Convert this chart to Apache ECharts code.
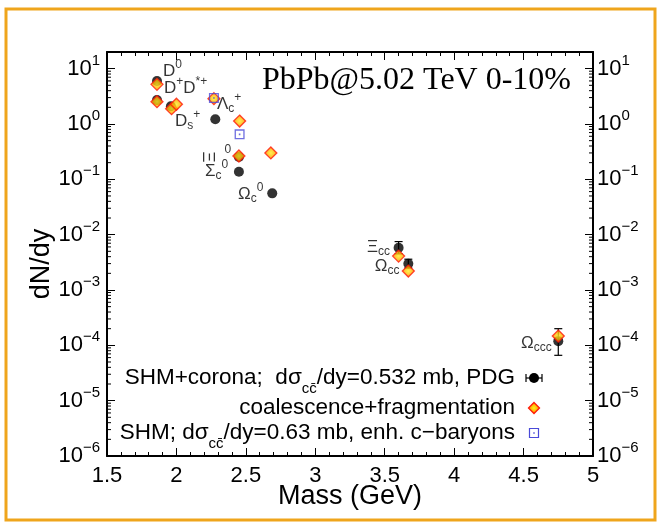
<!DOCTYPE html>
<html>
<head>
<meta charset="utf-8">
<script src="https://cdn.jsdelivr.net/npm/echarts@6/dist/echarts.min.js"></script>
<style>
  html, body { margin: 0; padding: 0; background: #ffffff; }
  #chart { width: 658px; height: 525px; }
</style>
</head>
<body>
<div id="chart"></div>
<script>
// Charm hadron yields dN/dy vs. mass, PbPb 5.02 TeV, 0-10% centrality

// SHM + corona, PDG masses (black points)
const shmCoronaMass  = [1.86, 1.86, 1.96, 2.28, 2.45, 2.45, 2.69, 3.60, 3.67, 4.75];
const shmCoronaYield = [6.0, 2.7, 2.1, 1.22, 0.253, 0.137, 0.0558, 0.0058, 0.00298, 1.19e-4];
// vertical uncertainties on the multi-charm states
const errMass = [3.60, 3.67, 4.75];
const errLow  = [0.0045, 0.0025, 6.6e-5];
const errHigh = [0.0075, 0.0036, 2.0e-4];

// coalescence + fragmentation (diamonds)
const coalMass  = [1.86, 1.86, 1.965, 2.0, 2.27, 2.455, 2.45, 2.68, 3.60, 3.67, 4.75];
const coalYield = [5.2, 2.53, 1.89, 2.27, 2.87, 1.13, 0.264, 0.30, 0.0041, 0.0022, 1.47e-4];

// SHM with enhanced charm-baryon spectrum (open squares)
const enhMass  = [2.27, 2.455];
const enhYield = [2.95, 0.65];

// particle name tags, anchored at (mass, yield)
const tagText  = ['{m|D}{p|0}', '{m|D}{p|+}{m|D}{p|*+}', '{m|D}{b|s}{p|+}', '{m|Λ}{b|c}{p|+}',
                  '{m|Σ}{b|c}{p|0}', '{m|Ω}{b|c}{p|0}', '{m|Ξ}{b|cc}', '{m|Ω}{b|cc}', '{m|Ω}{b|ccc}'];
const tagMass  = [1.903, 1.910, 1.990, 2.292, 2.206, 2.443, 3.372, 3.429, 4.481];
const tagYield = [9.08, 4.48, 1.13, 2.30, 0.141, 0.0542, 0.00597, 0.0027, 1.10e-4];
// the rotated Xi_c^0 tag
const xiTagMass = [2.227, 2.371];
const xiTagYield = [0.253, 0.339];

// axis ranges
const massRange = [1.5, 5];
const massStep = 0.5;
const yieldRange = [1e-6, 20];

const FONT = 'Liberation Sans, Arial, sans-serif';
const SERIF = 'Liberation Serif, Times New Roman, serif';

const chart = echarts.init(document.getElementById('chart'), null, { renderer: 'canvas' });

const expLabel = v => {
  const e = Math.round(Math.log10(v));
  if (Math.abs(Math.log10(v) - e) > 0.01) return '';
  return '{b|10}{s|' + (e < 0 ? '\u2212' + (-e) : String(e)) + '}';
};
const expRich = {
  b: { fontSize: 22, fontFamily: FONT, color: '#000' },
  s: { fontSize: 15, fontFamily: FONT, color: '#000', padding: [0, 0, 16, 0] }
};

const tagRich = {
  m: { fontSize: 17, fontFamily: FONT, color: '#000' },
  p: { fontSize: 12, fontFamily: FONT, color: '#000', padding: [0, 0, 12, 0] },
  b: { fontSize: 12, fontFamily: FONT, color: '#000', padding: [10, 0, 0, 0] }
};

// log-spaced minor ticks (2..9 × 10^k) on the yield axis
const minorYield = [];
for (let k = -6; k <= 1; k++) {
  for (let m = 2; m <= 9; m++) {
    const v = m * Math.pow(10, k);
    if (v < yieldRange[1]) minorYield.push([massRange[0], v]);
  }
}

const diamondFill = new echarts.graphic.RadialGradient(0.5, 0.5, 0.55, [
  { offset: 0, color: '#ffee22' },
  { offset: 0.55, color: '#ffb000' },
  { offset: 1, color: '#ff5a00' }
]);
const squareIcon = 'path://M0,0H10V10H0Z M1.3,1.3V8.7H8.7V1.3Z M4.2,4.2H5.8V5.8H4.2Z';

const valueAxisBase = {
  type: 'value', min: massRange[0], max: massRange[1], interval: massStep,
  axisLine: { show: true, onZero: false, lineStyle: { color: '#000', width: 2 } },
  axisTick: { show: true, inside: true, length: 8, lineStyle: { color: '#000', width: 1 } },
  minorTick: { show: true, splitNumber: 5, length: 4, lineStyle: { color: '#000', width: 1 } },
  splitLine: { show: false }, minorSplitLine: { show: false }
};
const logAxisBase = {
  type: 'log', logBase: 10, min: yieldRange[0], max: yieldRange[1], interval: 1,
  axisLine: { show: true, onZero: false, lineStyle: { color: '#000', width: 2 } },
  axisTick: { show: true, inside: true, length: 8, lineStyle: { color: '#000', width: 1 } },
  splitLine: { show: false }
};

chart.setOption({
  animation: false,
  backgroundColor: '#ffffff',
  grid: { left: 107, right: 65, top: 52, bottom: 69, containLabel: false },
  xAxis: [
    Object.assign({}, valueAxisBase, {
      position: 'bottom',
      axisLabel: {
        show: true, margin: 9, fontSize: 22, fontFamily: FONT, color: '#000',
        formatter: v => String(v)
      },
      name: 'Mass (GeV)', nameLocation: 'middle', nameGap: 27, nameMoveOverlap: false,
      nameTextStyle: { fontSize: 27, fontFamily: FONT, color: '#000', verticalAlign: 'top' }
    }),
    Object.assign({}, valueAxisBase, { position: 'top', axisLabel: { show: false } })
  ],
  yAxis: [
    Object.assign({}, logAxisBase, {
      position: 'left',
      axisLabel: { show: true, margin: 7, formatter: expLabel, rich: expRich }
    }),
    Object.assign({}, logAxisBase, {
      position: 'right',
      axisLabel: { show: true, margin: 4, formatter: expLabel, rich: expRich }
    })
  ],
  series: [
    {
      name: 'minor ticks', type: 'custom', silent: true, clip: false, z: 1,
      data: minorYield,
      renderItem: (params, api) => {
        const cs = params.coordSys;
        const y = api.coord([massRange[0], api.value(1)])[1];
        const st = { stroke: '#000', lineWidth: 1 };
        return {
          type: 'group', children: [
            { type: 'line', shape: { x1: cs.x, y1: y, x2: cs.x + 4, y2: y }, style: st },
            { type: 'line', shape: { x1: cs.x + cs.width - 4, y1: y, x2: cs.x + cs.width, y2: y }, style: st }
          ]
        };
      }
    },
    {
      name: 'SHM+corona errors', type: 'custom', silent: true, z: 2,
      data: errMass.map((m, i) => [m, errLow[i], errHigh[i]]),
      renderItem: (params, api) => {
        const lo = api.coord([api.value(0), api.value(1)]);
        const hi = api.coord([api.value(0), api.value(2)]);
        const st = { stroke: '#000', lineWidth: 1.2 };
        return {
          type: 'group', children: [
            { type: 'line', shape: { x1: lo[0], y1: lo[1], x2: hi[0], y2: hi[1] }, style: st },
            { type: 'line', shape: { x1: hi[0] - 4, y1: hi[1], x2: hi[0] + 4, y2: hi[1] }, style: st },
            { type: 'line', shape: { x1: lo[0] - 4, y1: lo[1], x2: lo[0] + 4, y2: lo[1] }, style: st }
          ]
        };
      }
    },
    {
      name: 'SHM+corona', type: 'scatter', z: 3,
      symbol: 'circle', symbolSize: 10,
      itemStyle: { color: '#000' },
      data: shmCoronaMass.map((m, i) => [m, shmCoronaYield[i]])
    },
    {
      name: 'coalescence+fragmentation', type: 'scatter', z: 4,
      symbol: 'diamond', symbolSize: 12,
      itemStyle: { color: diamondFill, borderColor: '#ff1a0a', borderWidth: 1.3 },
      data: coalMass.map((m, i) => [m, coalYield[i]])
    },
    {
      name: 'SHM enh. c-baryons', type: 'scatter', z: 5,
      symbol: squareIcon, symbolSize: 10,
      itemStyle: { color: '#4a4ad8' },
      data: enhMass.map((m, i) => [m, enhYield[i]])
    },
    {
      name: 'tags', type: 'scatter', silent: true, z: 6,
      symbolSize: 0,
      label: { show: true, position: 'right', distance: 0, formatter: p => tagText[p.dataIndex], rich: tagRich },
      data: tagMass.map((m, i) => [m, tagYield[i]])
    },
    {
      name: 'xi tag', type: 'scatter', silent: true, z: 6,
      symbolSize: 0,
      data: [
        { value: [xiTagMass[0], xiTagYield[0]],
          label: { show: true, position: 'inside', rotate: -90, formatter: '{m|Ξ}', rich: tagRich } },
        { value: [xiTagMass[1], xiTagYield[1]],
          label: { show: true, position: 'inside', formatter: '{p|0}', rich: { p: { fontSize: 12, fontFamily: FONT, color: '#000' } } } }
      ]
    }
  ],
  graphic: [
    // outer frame
    { type: 'rect', z: 0, silent: true,
      shape: { x: 6, y: 9, width: 649, height: 511 },
      style: { fill: 'none', stroke: '#efa51c', lineWidth: 3 } },
    // collision system
    { type: 'text', z: 10, silent: true,
      style: { text: 'PbPb@5.02 TeV 0-10%', x: 262, y: 81, verticalAlign: 'middle',
               font: '32px ' + SERIF, fill: '#000' } },
    // y axis title
    { type: 'text', z: 10, silent: true, x: 42, y: 264, rotation: Math.PI / 2,
      style: { text: 'dN/dy', x: 0, y: 0, align: 'center', verticalAlign: 'middle',
               font: '27px ' + FONT, fill: '#000' } },
    // key
    { type: 'text', z: 10, silent: true,
      style: { text: '{t|SHM+corona;  d\u03c3}{s|cc\u0304}{t|/dy=0.532 mb, PDG}', x: 515, y: 378,
               align: 'right', verticalAlign: 'middle',
               rich: { t: { fontSize: 22.5, fontFamily: FONT, fill: '#000' },
                       s: { fontSize: 15, fontFamily: FONT, fill: '#000', padding: [22, 0, 0, 0] } } } },
    { type: 'text', z: 10, silent: true,
      style: { text: 'coalescence+fragmentation', x: 515, y: 408, align: 'right', verticalAlign: 'middle',
               font: '22.5px ' + FONT, fill: '#000' } },
    { type: 'text', z: 10, silent: true,
      style: { text: '{t|SHM; d\u03c3}{s|cc\u0304}{t|/dy=0.63 mb, enh. c\u2212baryons}', x: 515, y: 433,
               align: 'right', verticalAlign: 'middle',
               rich: { t: { fontSize: 22.5, fontFamily: FONT, fill: '#000' },
                       s: { fontSize: 15, fontFamily: FONT, fill: '#000', padding: [22, 0, 0, 0] } } } },
    { type: 'group', z: 10, silent: true, children: [
      { type: 'line', shape: { x1: 526, y1: 378, x2: 542, y2: 378 }, style: { stroke: '#000', lineWidth: 1.2 } },
      { type: 'line', shape: { x1: 526, y1: 374, x2: 526, y2: 382 }, style: { stroke: '#000', lineWidth: 1.2 } },
      { type: 'line', shape: { x1: 542, y1: 374, x2: 542, y2: 382 }, style: { stroke: '#000', lineWidth: 1.2 } },
      { type: 'circle', shape: { cx: 534, cy: 378, r: 5 }, style: { fill: '#000' } },
      { type: 'polygon', shape: { points: [[534, 402.5], [539.5, 408], [534, 413.5], [528.5, 408]] },
        style: { fill: diamondFill, stroke: '#ff1a0a', lineWidth: 1.3 } },
      { type: 'rect', shape: { x: 529.5, y: 428.5, width: 9, height: 9 }, style: { fill: 'none', stroke: '#4a4ad8', lineWidth: 1.2 } },
      { type: 'rect', shape: { x: 533.3, y: 432.3, width: 1.4, height: 1.4 }, style: { fill: '#4a4ad8' } }
    ] }
  ]
});
</script>
</body>
</html>
